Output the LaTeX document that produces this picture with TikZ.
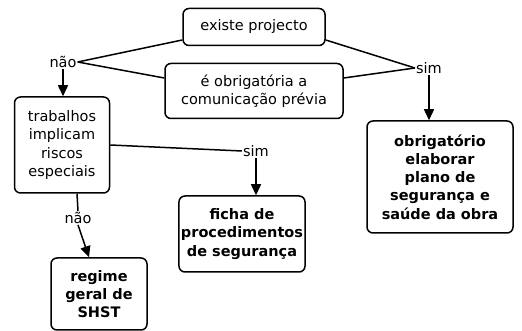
\documentclass[tikz,border=0pt]{standalone}
\usepackage{fontspec}
\setmainfont{DejaVu Sans}
\usetikzlibrary{arrows.meta,calc}

\tikzset{
  box/.style={draw, line width=1.5pt, rounded corners=6pt, align=center,
    inner sep=2pt, font=\fontsize{14.5}{18.3}\selectfont},
  endbox/.style={box, font=\fontsize{14.5}{18.3}\selectfont\bfseries},
  lbl/.style={inner sep=1pt, font=\fontsize{14.5}{16}\selectfont},
  link/.style={line width=1.5pt},
  go/.style={line width=1.5pt, -{Triangle[width=10pt,length=11pt]}}
}

\begin{document}
\begin{tikzpicture}[x=1pt, y=1pt]
\useasboundingbox (0,0) rectangle (522,331);

% questions
\node[box, minimum width=142pt, minimum height=37pt] (projecto) at (254,304) {existe projecto};
\node[box, minimum width=178pt, minimum height=55pt] (comunic) at (254,240) {é obrigatória a\\comunicação prévia};
\node[box, minimum width=95pt, minimum height=96pt] (riscos) at (62,186) {trabalhos\\implicam\\riscos\\especiais};

% answers
\node[endbox, minimum width=146pt, minimum height=112pt] (plano) at (440,154) {obrigatório\\elaborar\\plano de\\segurança e\\saúde da obra};
\node[endbox, minimum width=122pt, minimum height=76pt] (ficha) at (242,97) {ficha de\\procedimentos\\de segurança};
\node[endbox, minimum width=96pt, minimum height=72pt] (regime) at (99,37) {regime\\geral de\\SHST};

% labels
\node[lbl] (nao1) at (63,269) {não};
\node[lbl] (sim1) at (429,263) {sim};
\node[lbl] (sim2) at (256,180) {sim};
\node[lbl] (nao2) at (78,113) {não};

% connectors
\draw[link] ($(projecto.west)+(0,-13)$) -- (nao1.east);
\draw[link] (nao1.east) -- ($(comunic.west)+(0,13)$);
\draw[link] ($(projecto.east)+(0,-13)$) -- (sim1.west);
\draw[link] ($(comunic.east)+(0,13)$) -- (sim1.west);
\draw[go] (nao1.south) -- (nao1.south |- riscos.north);
\draw[go] (sim1.south) -- (sim1.south |- plano.north);

\draw[link] (riscos.east) -- (sim2.west);
\draw[go] (sim2.south) -- (sim2.south |- ficha.north);
\draw[link] ($(riscos.south)+(15,0)$) -- (nao2.north);
\draw[go] (nao2.south) -- ($(regime.north)+(-10,0)$);

\end{tikzpicture}
\end{document}
